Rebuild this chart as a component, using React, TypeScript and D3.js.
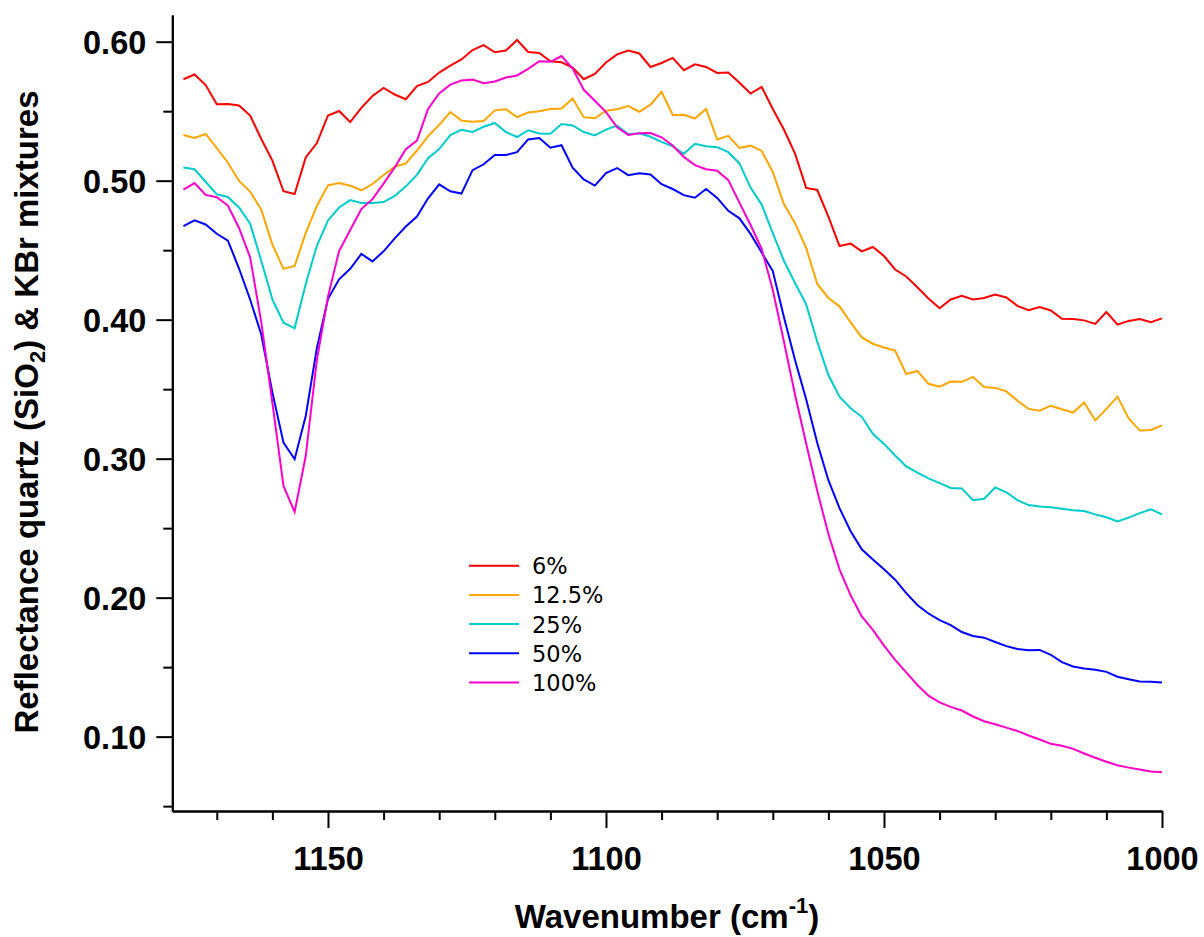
import React, { useEffect, useRef } from 'react';
import * as d3 from 'd3';

const width = 1204;
const height = 937;

// wavenumber grid (cm-1), read every 2 cm-1 off the spectra
const wavenumbers = [
  1176, 1174, 1172, 1170, 1168, 1166, 1164, 1162, 1160, 1158,
  1156, 1154, 1152, 1150, 1148, 1146, 1144, 1142, 1140, 1138,
  1136, 1134, 1132, 1130, 1128, 1126, 1124, 1122, 1120, 1118,
  1116, 1114, 1112, 1110, 1108, 1106, 1104, 1102, 1100, 1098,
  1096, 1094, 1092, 1090, 1088, 1086, 1084, 1082, 1080, 1078,
  1076, 1074, 1072, 1070, 1068, 1066, 1064, 1062, 1060, 1058,
  1056, 1054, 1052, 1050, 1048, 1046, 1044, 1042, 1040, 1038,
  1036, 1034, 1032, 1030, 1028, 1026, 1024, 1022, 1020, 1018,
  1016, 1014, 1012, 1010, 1008, 1006, 1004, 1002, 1000,
];

const quartz6 = [
  0.5730, 0.5764, 0.5688, 0.5550, 0.5552, 0.5541, 0.5469, 0.5300, 0.5144, 0.4924,
  0.4904, 0.5167, 0.5271, 0.5469, 0.5501, 0.5422, 0.5524, 0.5609, 0.5667, 0.5620,
  0.5586, 0.5681, 0.5710, 0.5778, 0.5827, 0.5872, 0.5940, 0.5975, 0.5924, 0.5936,
  0.6012, 0.5926, 0.5919, 0.5859, 0.5852, 0.5814, 0.5730, 0.5768, 0.5850, 0.5909,
  0.5937, 0.5915, 0.5818, 0.5847, 0.5883, 0.5795, 0.5837, 0.5818, 0.5775, 0.5778,
  0.5705, 0.5627, 0.5674, 0.5516, 0.5368, 0.5195, 0.4948, 0.4933, 0.4742, 0.4530,
  0.4547, 0.4491, 0.4523, 0.4458, 0.4361, 0.4311, 0.4233, 0.4153, 0.4082, 0.4145,
  0.4171, 0.4145, 0.4156, 0.4181, 0.4160, 0.4099, 0.4068, 0.4091, 0.4066, 0.4006,
  0.4005, 0.3995, 0.3969, 0.4055, 0.3964, 0.3991, 0.4005, 0.3981, 0.4009,
];

const quartz12 = [
  0.5329, 0.5307, 0.5336, 0.5235, 0.5129, 0.4998, 0.4922, 0.4791, 0.4540, 0.4365,
  0.4386, 0.4624, 0.4818, 0.4967, 0.4983, 0.4964, 0.4931, 0.4976, 0.5041, 0.5100,
  0.5124, 0.5217, 0.5320, 0.5401, 0.5494, 0.5432, 0.5424, 0.5429, 0.5506, 0.5514,
  0.5457, 0.5490, 0.5499, 0.5516, 0.5520, 0.5591, 0.5457, 0.5449, 0.5503, 0.5514,
  0.5537, 0.5496, 0.5547, 0.5640, 0.5473, 0.5474, 0.5447, 0.5516, 0.5296, 0.5323,
  0.5235, 0.5252, 0.5214, 0.5063, 0.4832, 0.4694, 0.4516, 0.4257, 0.4156, 0.4096,
  0.3980, 0.3872, 0.3827, 0.3800, 0.3777, 0.3609, 0.3631, 0.3539, 0.3518, 0.3555,
  0.3553, 0.3588, 0.3516, 0.3509, 0.3484, 0.3417, 0.3358, 0.3345, 0.3381, 0.3355,
  0.3332, 0.3404, 0.3275, 0.3358, 0.3446, 0.3289, 0.3202, 0.3206, 0.3239,
];

const quartz25 = [
  0.5094, 0.5082, 0.4992, 0.4902, 0.4883, 0.4807, 0.4690, 0.4424, 0.4146, 0.3978,
  0.3938, 0.4257, 0.4532, 0.4714, 0.4807, 0.4860, 0.4839, 0.4840, 0.4846, 0.4890,
  0.4959, 0.5042, 0.5161, 0.5227, 0.5328, 0.5366, 0.5351, 0.5388, 0.5415, 0.5350,
  0.5314, 0.5363, 0.5339, 0.5337, 0.5407, 0.5397, 0.5350, 0.5325, 0.5367, 0.5396,
  0.5334, 0.5341, 0.5316, 0.5279, 0.5247, 0.5194, 0.5265, 0.5247, 0.5241, 0.5205,
  0.5124, 0.4950, 0.4828, 0.4622, 0.4424, 0.4264, 0.4110, 0.3841, 0.3602, 0.3446,
  0.3363, 0.3301, 0.3179, 0.3106, 0.3023, 0.2944, 0.2899, 0.2858, 0.2824, 0.2789,
  0.2786, 0.2701, 0.2712, 0.2793, 0.2758, 0.2702, 0.2666, 0.2655, 0.2650, 0.2639,
  0.2628, 0.2623, 0.2599, 0.2578, 0.2549, 0.2576, 0.2608, 0.2635, 0.2599,
];

const quartz50 = [
  0.4673, 0.4714, 0.4685, 0.4618, 0.4569, 0.4368, 0.4145, 0.3893, 0.3476, 0.3115,
  0.2996, 0.3307, 0.3795, 0.4150, 0.4290, 0.4366, 0.4473, 0.4419, 0.4492, 0.4585,
  0.4670, 0.4742, 0.4873, 0.4974, 0.4924, 0.4907, 0.5076, 0.5118, 0.5185, 0.5185,
  0.5205, 0.5297, 0.5307, 0.5237, 0.5255, 0.5094, 0.5009, 0.4965, 0.5055, 0.5091,
  0.5040, 0.5053, 0.5045, 0.4975, 0.4940, 0.4896, 0.4877, 0.4940, 0.4876, 0.4783,
  0.4729, 0.4617, 0.4483, 0.4350, 0.4019, 0.3710, 0.3427, 0.3112, 0.2845, 0.2644,
  0.2478, 0.2348, 0.2274, 0.2204, 0.2129, 0.2032, 0.1947, 0.1886, 0.1838, 0.1802,
  0.1753, 0.1724, 0.1712, 0.1681, 0.1651, 0.1630, 0.1622, 0.1624, 0.1589, 0.1536,
  0.1505, 0.1490, 0.1481, 0.1466, 0.1431, 0.1413, 0.1396, 0.1395, 0.1390,
];

const quartz100 = [
  0.4936, 0.4983, 0.4898, 0.4881, 0.4821, 0.4660, 0.4448, 0.3983, 0.3401, 0.2804,
  0.2617, 0.3019, 0.3710, 0.4166, 0.4494, 0.4645, 0.4796, 0.4867, 0.4979, 0.5096,
  0.5226, 0.5288, 0.5516, 0.5628, 0.5691, 0.5720, 0.5727, 0.5701, 0.5714, 0.5742,
  0.5757, 0.5805, 0.5859, 0.5855, 0.5897, 0.5806, 0.5654, 0.5575, 0.5493, 0.5384,
  0.5329, 0.5341, 0.5343, 0.5312, 0.5253, 0.5171, 0.5112, 0.5082, 0.5071, 0.5004,
  0.4842, 0.4681, 0.4509, 0.4214, 0.3843, 0.3460, 0.3109, 0.2768, 0.2458, 0.2204,
  0.2017, 0.1865, 0.1768, 0.1655, 0.1552, 0.1462, 0.1372, 0.1295, 0.1247, 0.1214,
  0.1188, 0.1145, 0.1111, 0.1089, 0.1065, 0.1041, 0.1008, 0.0979, 0.0949, 0.0934,
  0.0912, 0.0879, 0.0848, 0.0819, 0.0794, 0.0777, 0.0763, 0.0750, 0.0744,
];

const seriesNames = ['6%', '12.5%', '25%', '50%', '100%'];
const seriesValues = [quartz6, quartz12, quartz25, quartz50, quartz100];
const seriesColors = ['#ff0000', '#ffa500', '#00cccc', '#0000ff', '#ff00cc'];

const yMajorTicks = [0.1, 0.2, 0.3, 0.4, 0.5, 0.6];
const yMinorTicks = [0.05, 0.15, 0.25, 0.35, 0.45, 0.55];
const xMajorTicks = [1150, 1100, 1050, 1000];
const xMinorTicks = [1170, 1160, 1140, 1130, 1120, 1110, 1090, 1080, 1070, 1060, 1040, 1030, 1020, 1010];

const boldFont = '"Liberation Sans", Arial, Helvetica, sans-serif';

function App() {
  const ref = useRef<SVGSVGElement>(null);

  useEffect(() => {
    document.body.style.margin = '0';
    const svg = d3.select(ref.current);
    svg.selectAll('*').remove();

    const x = d3.scaleLinear().domain([1178, 1000]).range([172.3, 1162]);
    const y = d3.scaleLinear().domain([0.0465, 0.6192]).range([811, 15]);

    // y axis: minor then major ticks
    const yMinor = svg.append('g').attr('transform', `translate(${x(1178)},0)`)
      .call(d3.axisLeft(y).tickValues(yMinorTicks).tickSize(9).tickSizeOuter(0).tickFormat(() => ''));
    const yMajor = svg.append('g').attr('transform', `translate(${x(1178)},0)`)
      .call(d3.axisLeft(y).tickValues(yMajorTicks).tickSize(16).tickSizeOuter(0).tickPadding(10)
        .tickFormat(d3.format('.2f')));

    const xMinor = svg.append('g').attr('transform', `translate(0,${y(0.0465)})`)
      .call(d3.axisBottom(x).tickValues(xMinorTicks).tickSize(9).tickSizeOuter(0).tickFormat(() => ''));
    const xMajor = svg.append('g').attr('transform', `translate(0,${y(0.0465)})`)
      .call(d3.axisBottom(x).tickValues(xMajorTicks).tickSize(17).tickSizeOuter(0).tickFormat(d3.format('d')));

    [yMinor, yMajor, xMinor, xMajor].forEach(g => {
      g.selectAll('.domain').attr('stroke', '#000').attr('stroke-width', 2);
      g.selectAll('.tick line').attr('stroke', '#000').attr('stroke-width', 2);
      g.selectAll('.tick text')
        .attr('fill', '#000')
        .attr('font-family', boldFont)
        .attr('font-weight', 'bold')
        .attr('font-size', 32.5);
    });
    yMajor.selectAll('.tick text').attr('dy', '0.35em');
    xMajor.selectAll('.tick text').attr('y', 59).attr('dy', null);

    // spectra
    const line = d3.line<number>()
      .x((d, i) => x(wavenumbers[i]))
      .y(d => y(d));

    svg.append('g')
      .selectAll('path')
      .data(seriesValues)
      .enter()
      .append('path')
        .attr('d', d => line(d))
        .attr('fill', 'none')
        .attr('stroke', (d, i) => seriesColors[i])
        .attr('stroke-width', 2)
        .attr('stroke-linejoin', 'miter');

    // legend
    const legend = svg.append('g').attr('transform', 'translate(469,565.7)');
    const rows = legend.selectAll('g')
      .data(seriesNames)
      .enter()
      .append('g')
        .attr('transform', (d, i) => `translate(0,${i * 29.2})`);
    rows.append('line')
      .attr('x1', 0).attr('x2', 50).attr('y1', 0).attr('y2', 0)
      .attr('stroke', (d, i) => seriesColors[i])
      .attr('stroke-width', 2);
    rows.append('text')
      .attr('x', 63)
      .attr('y', 8.5)
      .attr('font-family', '"DejaVu Sans", Verdana, sans-serif')
      .attr('font-size', 22.5)
      .attr('fill', '#000')
      .text(d => d);

    // axis titles
    const xTitle = svg.append('text')
      .attr('x', 667)
      .attr('y', 928)
      .attr('text-anchor', 'middle')
      .attr('font-family', boldFont)
      .attr('font-weight', 'bold')
      .attr('font-size', 33)
      .attr('fill', '#000');
    xTitle.append('tspan').text('Wavenumber (cm');
    xTitle.append('tspan').attr('font-size', 22).attr('dy', -15).text('-1');
    xTitle.append('tspan').attr('dy', 15).text(')');

    const yTitle = svg.append('text')
      .attr('transform', 'translate(38,412) rotate(-90)')
      .attr('text-anchor', 'middle')
      .attr('font-family', boldFont)
      .attr('font-weight', 'bold')
      .attr('font-size', 33)
      .attr('fill', '#000');
    yTitle.append('tspan').text('Reflectance quartz (SiO');
    yTitle.append('tspan').attr('font-size', 22).attr('dy', 7).text('2');
    yTitle.append('tspan').attr('dy', -7).text(') & KBr mixtures');
  }, []);

  return (
    <svg ref={ref} width={width} height={height} style={{ display: 'block', background: '#fff' }} />
  );
}

export default App;
